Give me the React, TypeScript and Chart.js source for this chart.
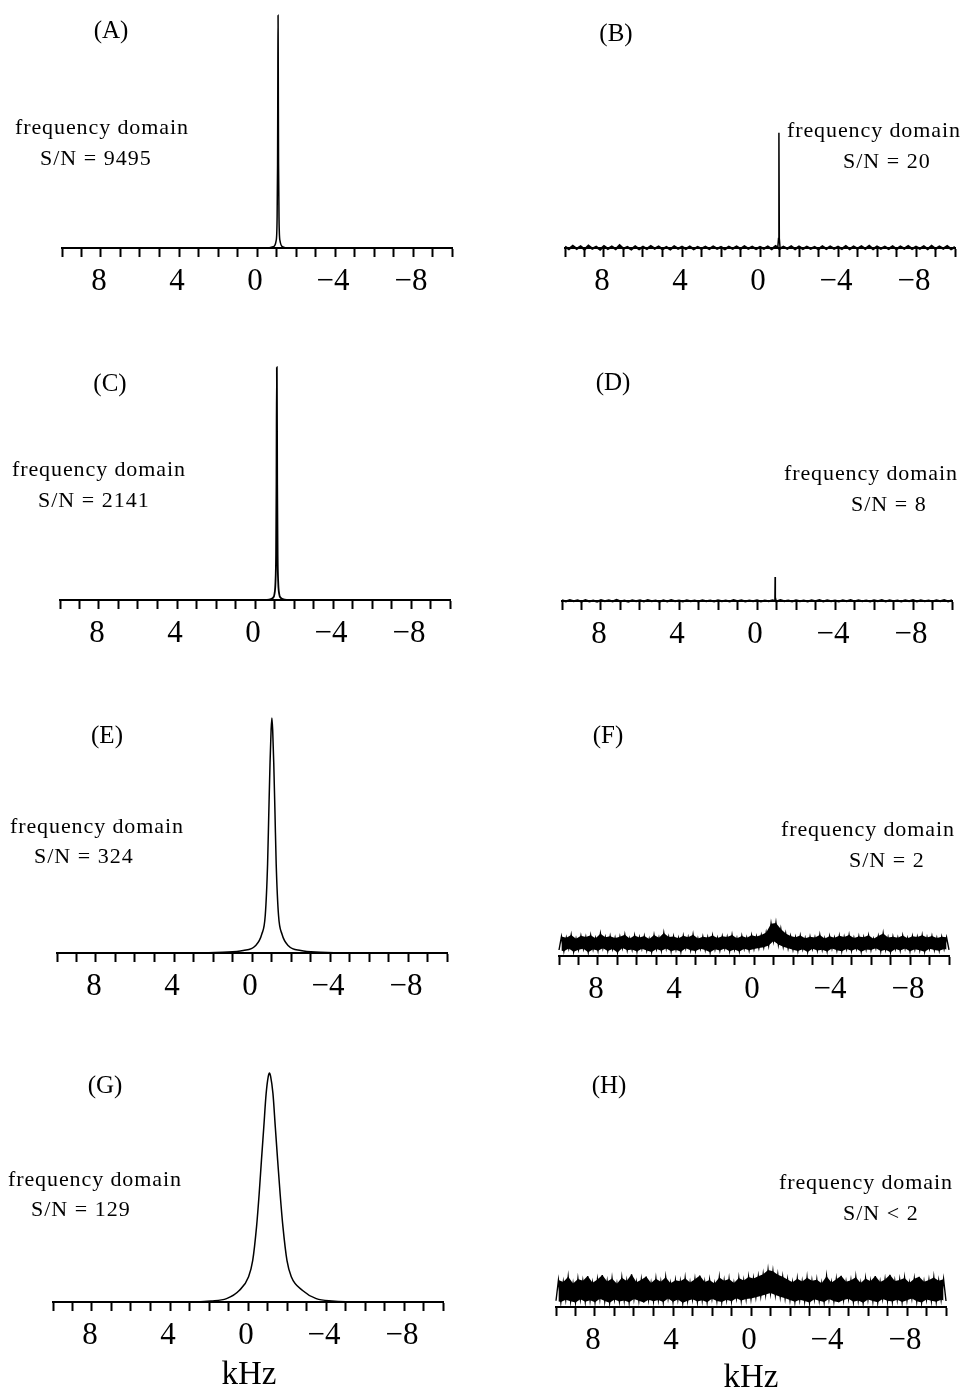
import React, { useEffect, useRef } from "react";
import { Chart, registerables } from "chart.js";

Chart.register(...registerables);

// ---------------- DATA ----------------
// frequency axis (kHz), drawn from +10 (left) to -10 (right)
const AXIS_MIN = -10;
const AXIS_MAX = 10;
const AXIS_STEP = 1;
const LABELED_TICKS = [8, 4, 0, -4, -8];
const AXIS_TITLE = "kHz";
const DOMAIN_TEXT = "frequency domain";
const PANEL_LETTERS = ["(A)", "(B)", "(C)", "(D)", "(E)", "(F)", "(G)", "(H)"];
const SN_TEXTS = ["S/N = 9495", "S/N = 20", "S/N = 2141", "S/N = 8", "S/N = 324", "S/N = 2", "S/N = 129", "S/N < 2"];

// intensities are in % of full panel height
// (A) very narrow line
const A_X = [10, -0.58, -0.83, -0.98, -1.03, -1.055, -1.07, -1.08, -1.09, -1.105, -1.13, -1.18, -1.33, -1.58, -10];
const A_Y = [0, 0, 0.5, 3, 12, 35, 75, 97, 75, 35, 12, 3, 0.5, 0, 0];

// (B) noise floor + narrow line
const B_NOISE = [
  0.6, -0.5, 0.9, -0.4, 0.7, -0.6, 1.0, -0.3, 0.5, -0.7,
  0.8, -0.4, 0.6, -0.5, 1.1, -0.3, 0.4, -0.6, 0.7, -0.5,
  0.5, -0.4, 0.8, -0.3, 0.6, -0.5, 0.4, -0.6, 0.7, -0.3,
  0.5, -0.4, 0.6, -0.5, 0.4, -0.3, 0.5, -0.4, 0.6, -0.3,
  0.4, -0.5, 0.5, -0.3, 0.6, -0.4, 0.7, -0.3, 0.5, -0.4,
  0.4, -0.3, 0.6, -0.5, 0.8, -0.4, 0.5, -0.3, 0.7, -0.5,
  0.6, -0.4, 0.5, -0.3, 0.4, -0.5, 0.7, -0.4, 0.6, -0.3,
  0.5, -0.4, 0.8, -0.5, 0.6, -0.3, 0.7, -0.4, 0.9, -0.5,
  0.6, -0.3, 0.5, -0.4, 0.7, -0.5, 0.6, -0.3, 0.8, -0.4,
  0.5, -0.3, 0.7, -0.5, 0.9, -0.4, 0.6, -0.3, 0.8, -0.5, 0.4,
];
const B_NOISE_STEP = 0.2;
const B_PEAK_X = [-0.91, -0.95, -0.97, -0.99, -1.03];
const B_PEAK_Y = [0, 4, 48, 4, 0];

// (C) narrow line
const C_X = [10, -0.52, -0.72, -0.92, -1.0, -1.05, -1.08, -1.1, -1.12, -1.14, -1.16, -1.19, -1.24, -1.32, -1.52, -1.72, -10];
const C_Y = [0, 0, 0.2, 0.9, 2.6, 7.5, 19, 48, 97, 48, 19, 7.5, 2.6, 0.9, 0.2, 0, 0];

// (D) noise floor + small line
const D_NOISE = [
  0.3, -0.2, 0.4, -0.1, 0.3, -0.3, 0.4, -0.2, 0.2, -0.3,
  0.4, -0.1, 0.3, -0.2, 0.5, -0.2, 0.2, -0.3, 0.3, -0.1,
  0.3, -0.2, 0.4, -0.1, 0.2, -0.3, 0.3, -0.2, 0.4, -0.1,
  0.2, -0.2, 0.3, -0.1, 0.2, -0.2, 0.3, -0.1, 0.2, -0.2,
  0.3, -0.1, 0.2, -0.2, 0.4, -0.1, 0.3, -0.2, 0.2, -0.1,
  0.3, -0.2, 0.2, -0.1, 0.3, -0.2, 0.4, -0.1, 0.2, -0.2,
  0.3, -0.1, 0.2, -0.2, 0.3, -0.1, 0.4, -0.2, 0.3, -0.1,
  0.2, -0.2, 0.3, -0.1, 0.4, -0.2, 0.3, -0.1, 0.2, -0.2,
  0.3, -0.1, 0.4, -0.2, 0.3, -0.1, 0.2, -0.2, 0.3, -0.1,
  0.4, -0.2, 0.3, -0.1, 0.2, -0.2, 0.3, -0.1, 0.4, -0.2, 0.3,
];
const D_NOISE_STEP = 0.2;
const D_PEAK_X = [-0.88, -0.92, -0.93, -0.94, -0.98];
const D_PEAK_Y = [0, 1.5, 10, 1.5, 0];

// (E) Lorentzian line
const E_X = [10, 3, 1.5, 0.45, -0.16, -0.5, -0.68, -0.8, -0.86, -0.925, -0.98, -1.02, -1.06, -1.115, -1.18, -1.24, -1.36, -1.54, -1.88, -2.5, -3.5, -5, -10];
const E_Y = [0, 0, 0.3, 1.0, 2.9, 7.8, 15.7, 37.2, 57.8, 79.3, 93, 97.9, 93, 79.3, 57.8, 37.2, 15.7, 7.8, 2.9, 1.0, 0.3, 0, 0];

// (F) noisy spectrum with small bump
const F_NOISE = [
  2.5, 8.1, 2.0, 7.6, 3.1, 8.8, 1.8, 7.2, 2.6, 8.4,
  3.0, 7.9, 1.6, 8.6, 2.8, 7.4, 2.2, 9.3, 3.2, 7.8,
  2.1, 8.2, 2.9, 7.5, 1.5, 8.0, 3.3, 8.9, 2.4, 7.3,
  2.7, 8.5, 1.9, 7.7, 3.0, 8.3, 2.3, 7.1, 1.7, 8.7,
  2.9, 7.6, 2.2, 9.6, 3.1, 7.9, 2.0, 8.1, 2.6, 7.4,
  1.8, 8.4, 3.2, 7.8, 2.4, 8.9, 2.1, 7.3, 3.0, 8.0,
  2.5, 7.7, 1.6, 8.5, 2.8, 7.5, 2.3, 8.2, 3.1, 7.9,
  2.0, 8.8, 2.7, 7.4, 1.9, 8.3, 3.0, 7.6, 2.4, 8.6,
  2.9, 8.1, 3.3, 8.7, 3.6, 9.8, 4.4, 13.4, 6.3, 13.8,
  4.8, 11.2, 3.9, 9.4, 3.2, 8.3, 2.6, 7.8, 2.1, 8.5,
  2.8, 7.4, 1.7, 8.0, 3.0, 7.7, 2.3, 8.8, 2.6, 7.3,
  1.9, 8.2, 3.1, 7.6, 2.4, 8.4, 2.0, 7.9, 2.9, 8.7,
  2.2, 7.5, 3.0, 8.1, 1.8, 7.8, 2.7, 8.6, 2.5, 7.2,
  3.2, 8.3, 2.1, 9.4, 2.6, 7.7, 1.6, 8.0, 2.9, 7.6,
  2.3, 8.5, 3.1, 7.4, 2.0, 8.2, 2.8, 7.9, 2.4, 8.6,
  1.8, 7.7, 3.0, 8.3, 2.5, 7.5, 2.2, 8.0, 2.9, 7.8,
  2.6,
];
const F_NOISE_STEP = 0.125;

// (G) broad Lorentzian line
const G_X = [10, 3, 1.9, 1.1, 0.45, -0.03, -0.24, -0.44, -0.57, -0.69, -0.81, -0.93, -1.04, -1.1, -1.16, -1.28, -1.4, -1.52, -1.65, -1.79, -2.0, -2.22, -2.8, -3.5, -4.3, -6, -10];
const G_Y = [0, 0, 0.4, 1.4, 4.8, 10.5, 17.2, 31.5, 44.8, 59.1, 72.9, 86.8, 94, 95.4, 94, 86.8, 72.9, 59.1, 44.8, 31.5, 17.2, 10.5, 4.8, 1.4, 0.4, 0, 0];

// (H) very noisy spectrum with faint bump
const H_NOISE = [
  2.6, 11.2, 2.1, 10.4, 3.0, 12.6, 2.4, 9.8, 1.9, 11.7,
  3.2, 10.9, 2.2, 12.9, 2.8, 10.1, 2.0, 11.5, 3.4, 13.3,
  2.5, 10.6, 1.8, 11.9, 3.1, 9.7, 2.3, 12.2, 2.7, 10.8,
  2.0, 13.6, 3.3, 10.3, 2.6, 11.4, 1.9, 12.7, 3.0, 10.0,
  2.4, 11.8, 2.9, 10.5, 2.1, 12.4, 3.5, 9.9, 2.2, 11.1,
  3.1, 10.7, 1.8, 12.0, 2.6, 10.2, 3.2, 11.6, 2.3, 13.1,
  2.8, 10.4, 2.0, 11.3, 3.4, 9.8, 2.5, 12.3, 2.1, 10.9,
  3.0, 11.7, 2.4, 10.0, 3.6, 12.1, 2.7, 11.0, 3.3, 12.5,
  3.5, 11.9, 4.1, 12.8, 4.6, 13.6, 5.2, 15.4, 5.8, 14.9,
  5.0, 13.4, 4.3, 12.6, 3.6, 11.5, 2.9, 10.3, 2.2, 11.8,
  3.0, 10.6, 2.5, 12.2, 1.9, 10.9, 3.2, 11.4, 2.6, 9.9,
  2.1, 12.8, 3.3, 10.2, 2.4, 11.6, 2.0, 13.0, 2.9, 10.5,
  3.4, 11.1, 2.2, 12.4, 2.7, 10.0, 1.8, 11.9, 3.1, 10.7,
  2.5, 12.9, 2.0, 10.4, 3.3, 11.5, 2.6, 13.4, 2.3, 10.8,
  3.0, 11.3, 2.1, 12.1, 2.8, 10.1, 3.5, 11.8, 2.4, 12.6,
  1.9, 10.5, 3.1, 11.2, 2.6, 12.3, 2.2, 10.9, 3.0, 11.6,
  2.5,
];
const H_NOISE_STEP = 0.125;

// ---------------- LAYOUT / STYLE ----------------
const PLOT_H = 240; // px for 100 %
const PAD = 14;
const AXIS_W = 390;
const CANVAS_W = AXIS_W + 2 * PAD;
const CANVAS_H = 305;
const SERIF = '"Liberation Serif", "Times New Roman", serif';

type Series = { xs: number[]; ys: number[]; smooth: boolean; width: number; fillNext?: boolean; hidden?: boolean };

const gridX = (vals: number[], step: number) => vals.map((_, i) => AXIS_MAX - i * step);

// noise band: upper envelope (odd samples) filled down to lower envelope (even samples), plus the trace itself
function noiseBand(vals: number[], step: number, width: number): Series[] {
  const xs = gridX(vals, step);
  const upX = xs.filter((_, i) => i % 2 === 1);
  const upY = vals.filter((_, i) => i % 2 === 1);
  const loX = xs.filter((_, i) => i % 2 === 0);
  const loY = vals.filter((_, i) => i % 2 === 0);
  return [
    { xs: upX, ys: upY, smooth: false, width: 0, fillNext: true },
    { xs: loX, ys: loY, smooth: false, width: 0 },
    { xs, ys: vals, smooth: false, width },
  ];
}

const PANEL_SERIES: Series[][] = [
  [{ xs: A_X, ys: A_Y, smooth: true, width: 1.5 }],
  [
    { xs: gridX(B_NOISE, B_NOISE_STEP), ys: B_NOISE, smooth: false, width: 2.2 },
    { xs: B_PEAK_X, ys: B_PEAK_Y, smooth: false, width: 1.5 },
  ],
  [{ xs: C_X, ys: C_Y, smooth: true, width: 1.8 }],
  [
    { xs: gridX(D_NOISE, D_NOISE_STEP), ys: D_NOISE, smooth: false, width: 2 },
    { xs: D_PEAK_X, ys: D_PEAK_Y, smooth: false, width: 1.5 },
  ],
  [{ xs: E_X, ys: E_Y, smooth: true, width: 1.5 }],
  noiseBand(F_NOISE, F_NOISE_STEP, 1.4),
  [{ xs: G_X, ys: G_Y, smooth: true, width: 1.5 }],
  noiseBand(H_NOISE, H_NOISE_STEP, 1.4),
];

const PANEL_LAYOUT = [
  { axisLeft: 62, baseline: 248, letter: [111, 31], domain: [15, 129], sn: [40, 158] },
  { axisLeft: 565, baseline: 248, letter: [616, 34], domain: [787, 132], sn: [843, 161] },
  { axisLeft: 59.5, baseline: 600, letter: [110, 384], domain: [12, 471], sn: [38, 500] },
  { axisLeft: 562, baseline: 601, letter: [613, 383], domain: [784, 475], sn: [851, 504] },
  { axisLeft: 57, baseline: 953, letter: [107, 736], domain: [10, 828], sn: [34, 856] },
  { axisLeft: 559, baseline: 956, letter: [608, 736], domain: [781, 831], sn: [849, 860] },
  { axisLeft: 53, baseline: 1302, letter: [105, 1086], domain: [8, 1181], sn: [31, 1209] },
  { axisLeft: 556, baseline: 1306.5, letter: [609, 1086], domain: [779, 1184], sn: [843, 1213] },
];
const KHZ_POS = [
  [249, 1373],
  [751, 1376],
];

function tickLabel(v: number | string): string {
  const n = Math.round(Number(v));
  if (!LABELED_TICKS.includes(n)) return "";
  return n < 0 ? "\u2212" + Math.abs(n) : String(n);
}

function SpectrumChart({ series, axisLeft, baseline }: { series: Series[]; axisLeft: number; baseline: number }) {
  const ref = useRef<HTMLCanvasElement>(null);
  useEffect(() => {
    const canvas = ref.current!;
    const chart = new Chart(canvas, {
      type: "line",
      data: {
        datasets: series.map((s) => ({
          data: s.xs.map((x, i) => ({ x, y: s.ys[i] })),
          borderColor: s.width > 0 ? "#000" : "rgba(0,0,0,0)",
          borderWidth: s.width,
          backgroundColor: "#000",
          pointRadius: 0,
          fill: s.fillNext ? "+1" : false,
          tension: 0,
          cubicInterpolationMode: s.smooth ? "monotone" : "default",
          clip: false,
        })) as any,
      },
      options: {
        animation: false,
        responsive: false,
        maintainAspectRatio: false,
        events: [],
        layout: { padding: { left: PAD, right: PAD, top: 4, bottom: 0 } },
        plugins: { legend: { display: false }, tooltip: { enabled: false }, filler: { propagate: false } },
        scales: {
          x: {
            type: "linear",
            min: AXIS_MIN,
            max: AXIS_MAX,
            reverse: true,
            border: { display: true, color: "#000", width: 2 },
            grid: {
              display: true,
              drawOnChartArea: false,
              drawTicks: true,
              tickLength: 9,
              tickWidth: 2,
              tickColor: "#000",
            },
            ticks: {
              stepSize: AXIS_STEP,
              autoSkip: false,
              maxRotation: 0,
              minRotation: 0,
              color: "#000",
              padding: 9,
              labelOffset: -2,
              font: { family: SERIF, size: 31, lineHeight: 1 },
              callback: (v: any) => tickLabel(v),
            },
          },
          y: { display: false, min: 0, max: 100 },
        },
      } as any,
    });
    const area = chart.chartArea;
    const h = area.bottom - area.top;
    (chart.options.scales as any).y.max = (100 * h) / PLOT_H;
    chart.update();
    const a2 = chart.chartArea;
    canvas.style.left = axisLeft - a2.left + "px";
    canvas.style.top = baseline - a2.bottom + "px";
    return () => chart.destroy();
  }, []);
  return (
    <canvas
      ref={ref}
      width={CANVAS_W}
      height={CANVAS_H}
      style={{ position: "absolute", left: axisLeft - PAD, top: baseline - 250, width: CANVAS_W, height: CANVAS_H }}
    />
  );
}

function TextAt({ text, x, cy, size, spacing = 0, center = false, k }: any) {
  return (
    <div
      style={{
        position: "absolute",
        left: x,
        top: cy - size * k,
        fontSize: size,
        lineHeight: 1,
        letterSpacing: spacing,
        whiteSpace: "nowrap",
        transform: center ? "translateX(-50%)" : undefined,
        fontFamily: SERIF,
        color: "#000",
      }}
    >
      {text}
    </div>
  );
}

export default function App() {
  return (
    <div style={{ position: "absolute", left: 0, top: 0, width: 961, height: 1388, background: "#fff", overflow: "hidden" }}>
      {PANEL_LAYOUT.map((p, i) => (
        <SpectrumChart key={"c" + i} series={PANEL_SERIES[i]} axisLeft={p.axisLeft} baseline={p.baseline} />
      ))}
      {PANEL_LAYOUT.map((p, i) => (
        <React.Fragment key={"t" + i}>
          <TextAt text={PANEL_LETTERS[i]} x={p.letter[0]} cy={p.letter[1]} size={25} center k={0.58} />
          <TextAt text={DOMAIN_TEXT} x={p.domain[0]} cy={p.domain[1]} size={22} spacing={0.9} k={0.6} />
          <TextAt text={SN_TEXTS[i]} x={p.sn[0]} cy={p.sn[1]} size={22} spacing={1.0} k={0.51} />
        </React.Fragment>
      ))}
      {KHZ_POS.map((q, i) => (
        <TextAt key={"k" + i} text={AXIS_TITLE} x={q[0]} cy={q[1]} size={33} center k={0.5} />
      ))}
    </div>
  );
}
